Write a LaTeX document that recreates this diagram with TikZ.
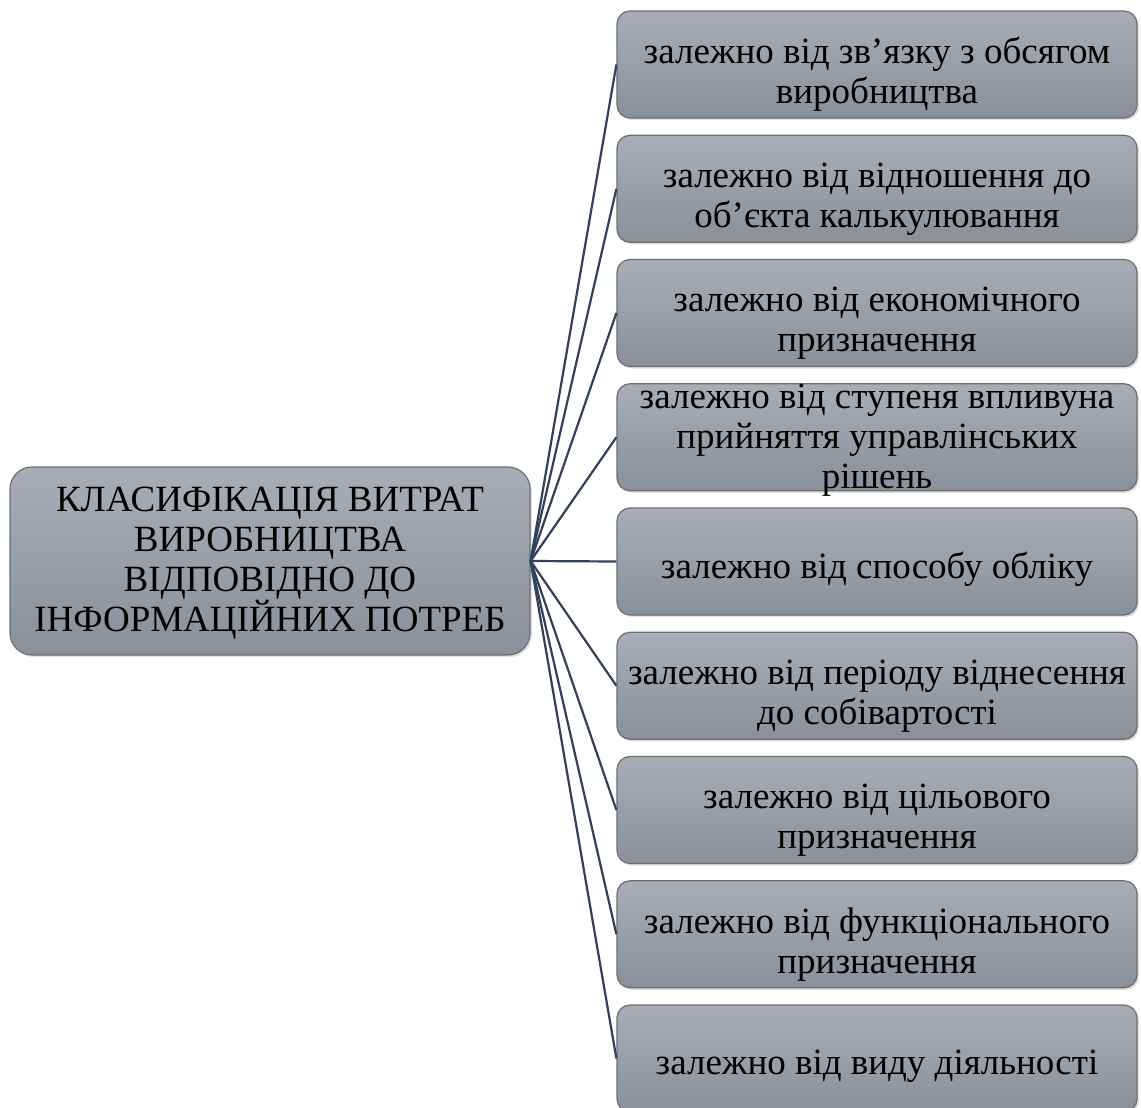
\documentclass[tikz,border=0pt]{standalone}
\usepackage{fontspec}
\setmainfont{Liberation Serif}
\newfontfamily\tnr{Liberation Serif}
\usetikzlibrary{shadows}
\definecolor{boxtop}{HTML}{A8ADB6}
\definecolor{boxbot}{HTML}{8A909A}
\definecolor{boxline}{HTML}{6A6F77}
\definecolor{linkcol}{HTML}{33405A}
\tikzset{
  panel/.style={draw=boxline, line width=1.2pt, rounded corners=13pt,
    top color=boxtop, bottom color=boxbot, minimum width=520pt,
    minimum height=107pt, inner sep=0pt,
    drop shadow={opacity=0.25, shadow xshift=2pt, shadow yshift=-2pt}},
  mainpanel/.style={panel, rounded corners=22pt, minimum height=188pt},
  boxtext/.style={font=\tnr\fontsize{37}{40}\selectfont, align=center, text=black, inner sep=0pt},
  link/.style={draw=linkcol, line width=2.2pt}
}
\begin{document}
\begin{tikzpicture}[x=1pt,y=-1pt]
\useasboundingbox (0,0) rectangle (1141,1108);
\fill[white] (0,0) rectangle (1141,1108);
% main box
\node[mainpanel] (M) at (270,561) {};
% right boxes
\node[panel] (b1) at (877,64.5) {};
\node[panel] (b2) at (877,188.75) {};
\node[panel] (b3) at (877,313) {};
\node[panel] (b4) at (877,437.25) {};
\node[panel] (b5) at (877,561.5) {};
\node[panel] (b6) at (877,685.75) {};
\node[panel] (b7) at (877,810) {};
\node[panel] (b8) at (877,934.25) {};
\node[panel] (b9) at (877,1058.5) {};
% connectors
\foreach \i in {1,...,9} {\draw[link] (M.east) -- (b\i.west);}
% texts
\node[boxtext] (tM) at ([yshift=-2pt]M.center) {КЛАСИФІКАЦІЯ ВИТРАТ\\ВИРОБНИЦТВА\\ВІДПОВІДНО ДО\\ІНФОРМАЦІЙНИХ ПОТРЕБ};
\node[boxtext] (t1) at ([yshift=-10pt]b1.center) {залежно від зв’язку з обсягом\\виробництва};
\node[boxtext] (t2) at ([yshift=-10pt]b2.center) {залежно від відношення до\\об’єкта калькулювання};
\node[boxtext] (t3) at ([yshift=-10pt]b3.center) {залежно від економічного\\призначення};
\node[boxtext] (t4) at ([yshift=-3pt]b4.center) {залежно від ступеня впливуна\\прийняття управлінських\\рішень};
\node[boxtext] (t5) at ([yshift=-8pt]b5.center) {залежно від способу обліку};
\node[boxtext] (t6) at ([yshift=-10pt]b6.center) {залежно від періоду віднесення\\до собівартості};
\node[boxtext] (t7) at ([yshift=-10pt]b7.center) {залежно від цільового\\призначення};
\node[boxtext] (t8) at ([yshift=-10pt]b8.center) {залежно від функціонального\\призначення};
\node[boxtext] (t9) at ([yshift=-8pt]b9.center) {залежно від виду діяльності};
\end{tikzpicture}
\end{document}
